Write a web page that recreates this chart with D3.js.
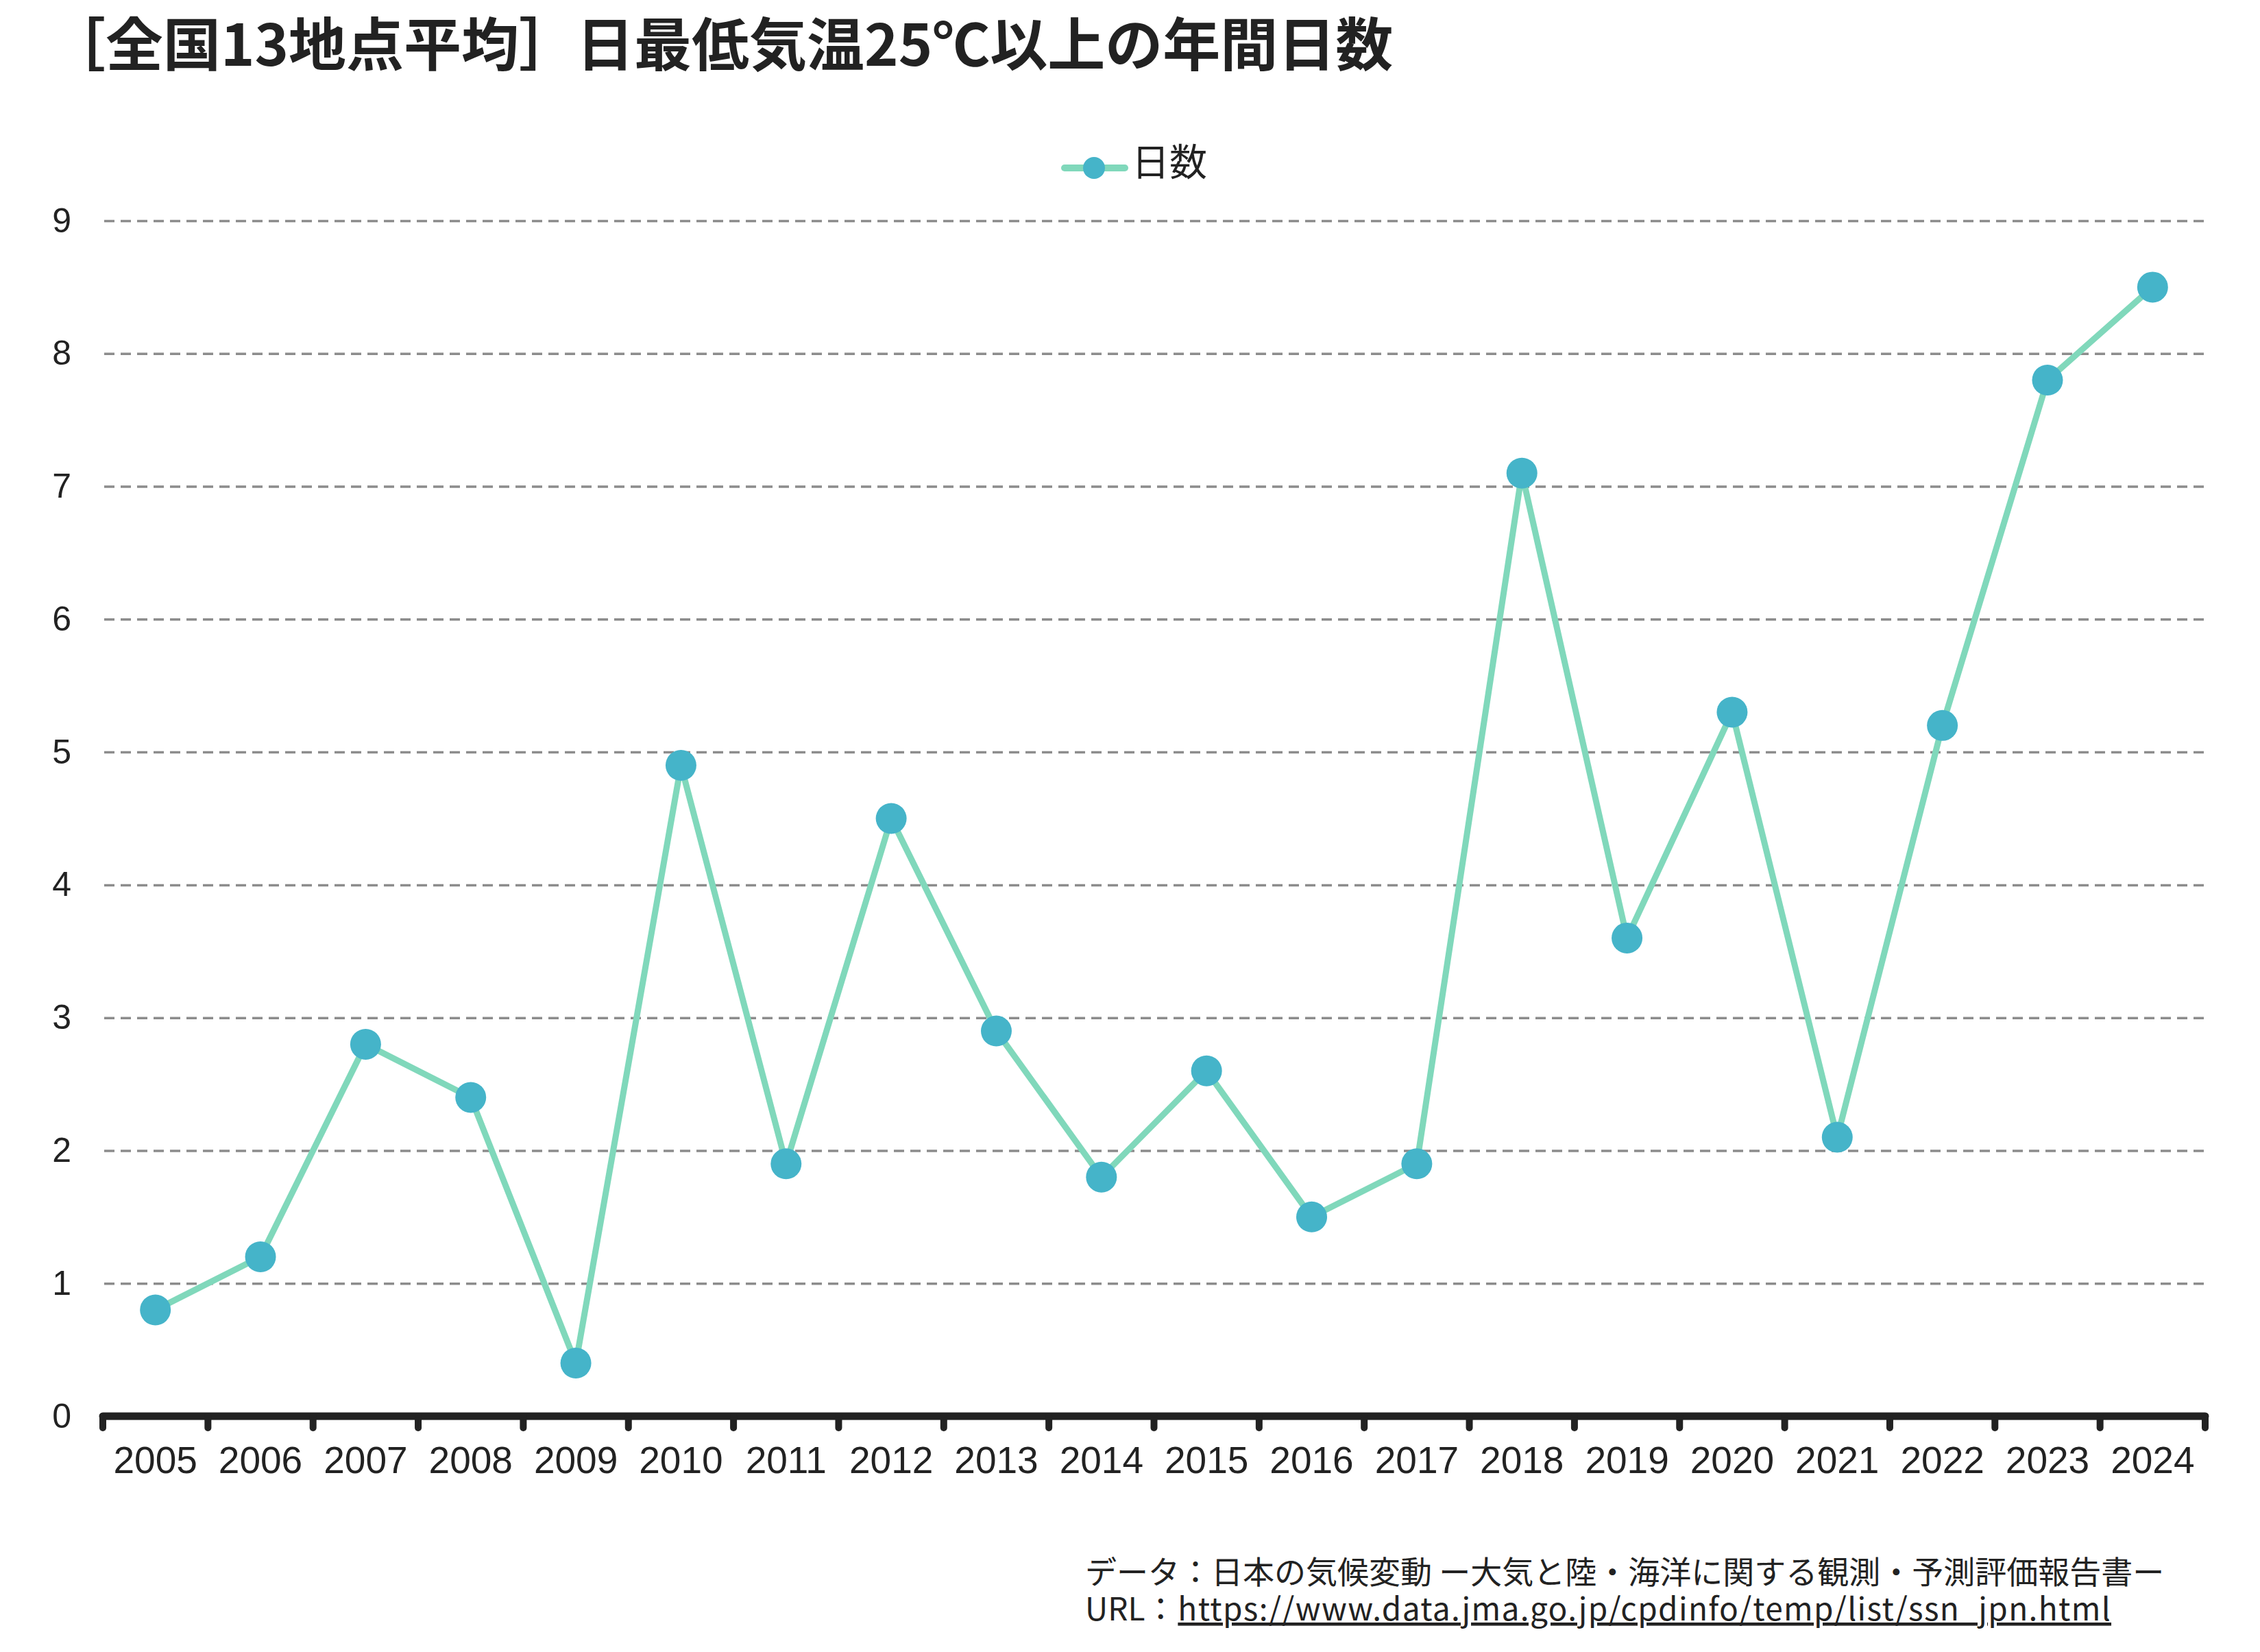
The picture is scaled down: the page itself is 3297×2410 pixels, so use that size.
<!DOCTYPE html>
<html>
<head>
<meta charset="utf-8">
<script src="https://cdn.jsdelivr.net/npm/d3@7"></script>
<style>
  body { margin: 0; background: #fff; }
  text { fill: #222; }
</style>
</head>
<body>
<svg id="chart"></svg>
<script>
var years = ["2005","2006","2007","2008","2009","2010","2011","2012","2013","2014",
             "2015","2016","2017","2018","2019","2020","2021","2022","2023","2024"];
var days = [0.8, 1.2, 2.8, 2.4, 0.4, 4.9, 1.9, 4.5, 2.9, 1.8,
            2.6, 1.5, 1.9, 7.1, 3.6, 5.3, 2.1, 5.2, 7.8, 8.5];
var yTicks = [0, 1, 2, 3, 4, 5, 6, 7, 8, 9];
var seriesName = "日数";
var title = "［全国13地点平均］日最低気温25℃以上の年間日数";
var source1 = "データ：日本の気候変動 ー大気と陸・海洋に関する観測・予測評価報告書ー";
var sourceUrl = "https://www.data.jma.go.jp/cpdinfo/temp/list/ssn_jpn.html";

var W = 3297, H = 2410;
var margin = {top: 322, right: 80, bottom: 344, left: 150},
    width = W - margin.left - margin.right,
    height = H - margin.top - margin.bottom;

var lineColor = "#80d8bb", dotColor = "#45b4c9";

var svg = d3.select("#chart")
    .attr("width", W)
    .attr("height", H);

var x = d3.scaleBand()
    .domain(years)
    .range([margin.left, margin.left + width]);

var y = d3.scaleLinear()
    .domain([0, 9])
    .range([margin.top + height, margin.top]);

// title
svg.append("text")
    .attr("x", 70)
    .attr("y", 96)
    .style("font-family", "'Noto Sans CJK JP'")
    .style("font-weight", "bold")
    .style("font-size", "84px")
    .text(title);

// grid + y labels
var yAxis = d3.axisLeft(y)
    .tickValues(yTicks)
    .tickSize(-width)
    .tickPadding(46)
    .tickFormat(d3.format("d"));

var gy = svg.append("g")
    .attr("transform", "translate(" + margin.left + ",0)")
    .call(yAxis);
gy.select(".domain").remove();
gy.selectAll(".tick line")
    .attr("stroke", "#8c8c8c")
    .attr("stroke-width", 3.5)
    .attr("stroke-dasharray", "15,9")
    .attr("x1", 2);
gy.selectAll(".tick text")
    .style("font-family", "'Liberation Sans', Arial, sans-serif")
    .style("font-size", "50px")
    .attr("fill", "#222");

// x labels
var xAxis = d3.axisBottom(x).tickSize(0).tickPadding(44);
var gx = svg.append("g")
    .attr("transform", "translate(0," + (margin.top + height) + ")")
    .call(xAxis);
gx.select(".domain").remove();
gx.selectAll(".tick text")
    .style("font-family", "'Liberation Sans', Arial, sans-serif")
    .style("font-size", "55px")
    .attr("fill", "#222");

// axis line with boundary ticks
var y0 = y(0);
var bounds = years.map(function(d) { return x(d); }).concat([x.range()[1]]);
svg.append("line")
    .attr("x1", bounds[0]).attr("x2", bounds[bounds.length - 1])
    .attr("y1", y0).attr("y2", y0)
    .attr("stroke", "#222")
    .attr("stroke-width", 11)
    .attr("stroke-linecap", "round");
svg.selectAll(".xtick")
    .data(bounds)
  .enter().append("line")
    .attr("class", "xtick")
    .attr("x1", function(d) { return d; })
    .attr("x2", function(d) { return d; })
    .attr("y1", y0)
    .attr("y2", y0 + 17)
    .attr("stroke", "#222")
    .attr("stroke-width", 10)
    .attr("stroke-linecap", "round");

// series
var line = d3.line()
    .x(function(d, i) { return x(years[i]) + x.bandwidth() / 2; })
    .y(function(d) { return y(d); });

svg.append("path")
    .datum(days)
    .attr("fill", "none")
    .attr("stroke", lineColor)
    .attr("stroke-width", 9)
    .attr("stroke-linejoin", "round")
    .attr("d", line);

svg.selectAll(".dot")
    .data(days)
  .enter().append("circle")
    .attr("class", "dot")
    .attr("cx", function(d, i) { return x(years[i]) + x.bandwidth() / 2; })
    .attr("cy", function(d) { return y(d); })
    .attr("r", 22.5)
    .attr("fill", dotColor);

// legend
var lg = svg.append("g");
lg.append("line")
    .attr("x1", 1553).attr("x2", 1641)
    .attr("y1", 245).attr("y2", 245)
    .attr("stroke", lineColor)
    .attr("stroke-width", 10)
    .attr("stroke-linecap", "round");
lg.append("circle")
    .attr("cx", 1596).attr("cy", 245)
    .attr("r", 16)
    .attr("fill", dotColor);
lg.append("text")
    .attr("x", 1651)
    .attr("y", 256)
    .style("font-family", "'Noto Sans CJK JP'")
    .style("font-size", "55px")
    .text(seriesName);

// source
svg.append("text")
    .attr("x", 1583)
    .attr("y", 2310)
    .style("font-family", "'Noto Sans CJK JP'")
    .style("font-size", "46px")
    .text(source1);

var urlLabel = svg.append("text")
    .attr("x", 1583)
    .attr("y", 2364)
    .style("font-family", "'Noto Sans CJK JP'")
    .style("font-size", "46px")
    .text("URL：");

svg.append("text")
    .attr("x", 1583 + urlLabel.node().getComputedTextLength() + 2)
    .attr("y", 2364)
    .style("font-family", "'Noto Sans CJK JP'")
    .style("font-size", "46px")
    .style("text-decoration", "underline")
    .style("letter-spacing", "1.35px")
    .text(sourceUrl);
</script>
</body>
</html>
